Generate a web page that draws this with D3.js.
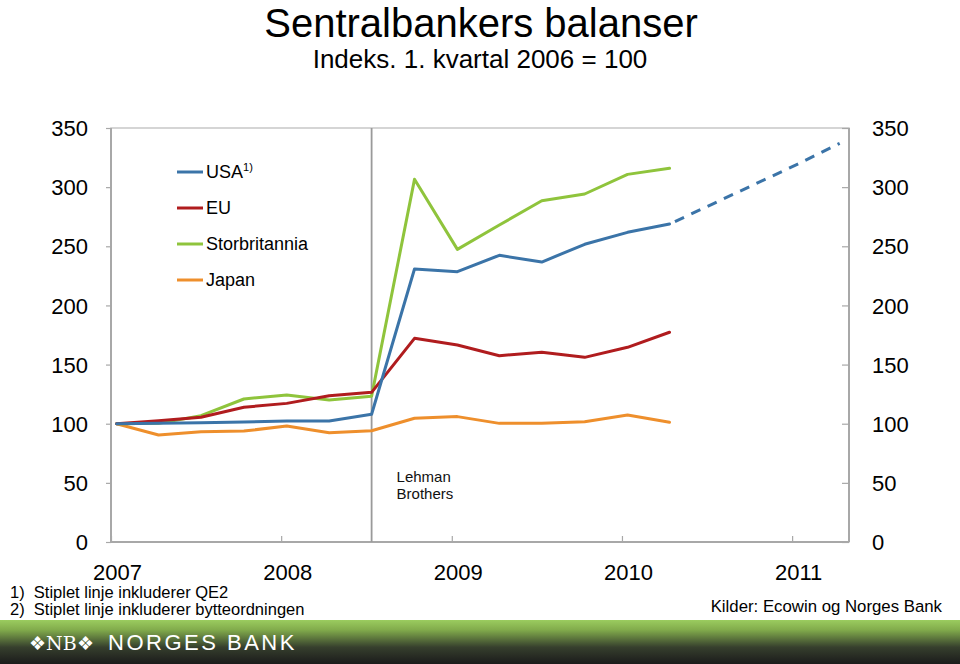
<!DOCTYPE html>
<html>
<head>
<meta charset="utf-8">
<script src="https://cdn.jsdelivr.net/npm/d3@7"></script>
<style>
  html, body { margin: 0; padding: 0; background: #fff; }
  svg { display: block; font-family: "Liberation Sans", Arial, sans-serif; }
</style>
</head>
<body>
<svg id="chart" width="960" height="664"></svg>
<script>
// ---------- DATA ----------
const quarters = ["2007-01","2007-04","2007-07","2007-10","2008-01","2008-04","2008-07","2008-10",
                  "2009-01","2009-04","2009-07","2009-10","2010-01","2010-04",
                  "2010-07","2010-10","2011-01","2011-04"];
const usa      = [100, 100.3, 100.9, 101.4, 102.3, 102.3, 108, 230.8, 228.5, 242.4, 236.7, 251.7, 261.8, 268.8];
const usaQE2   = [268.8, 285.5, 302.5, 319.5, 337];           // dashed continuation (2010Q2 - 2011Q2)
const eu       = [100, 102.6, 105.4, 113.9, 117.2, 123.7, 126.5, 172.2, 166.5, 157.5, 160.4, 156.1, 164.6, 177.3];
const uk       = [100, 100.3, 106.8, 120.9, 124.3, 120, 123.3, 306.6, 247.4, 268, 288.5, 294.2, 310.8, 315.9];
const japan    = [100, 90.5, 93.3, 93.8, 98, 92.4, 94.1, 104.6, 106, 100.3, 100.3, 101.7, 107.4, 101.2];
const seriesNames = ["USA", "EU", "Storbritannia", "Japan"];
const seriesColors = ["#3b74a8", "#b01c1e", "#8fc43c", "#ee8f2c"];
const yTicks = [0, 50, 100, 150, 200, 250, 300, 350];
const yearTicks = [2007, 2008, 2009, 2010, 2011];
const lehmanQuarter = "2008-07";

// ---------- LAYOUT ----------
const svg = d3.select("#chart");
const L = 111, R = 849, T = 128, B = 542;
const parseQ = s => { const [y, m] = s.split("-").map(Number); return new Date(y, m - 1, 13); };
const x = d3.scaleTime().domain([new Date(2007, 0, 1), new Date(2011, 4, 3)]).range([L, R]);
const y = d3.scaleLinear().domain([0, 350]).range([B, T]);

// gradient for footer
const defs = svg.append("defs");
const g = defs.append("linearGradient").attr("id", "foot").attr("x1", 0).attr("y1", 0).attr("x2", 0).attr("y2", 1);
g.append("stop").attr("offset", "0%").attr("stop-color", "#9bcc5f");
g.append("stop").attr("offset", "22%").attr("stop-color", "#82ac4c");
g.append("stop").attr("offset", "62%").attr("stop-color", "#363f2d");
g.append("stop").attr("offset", "100%").attr("stop-color", "#1b1b1b");

// titles
svg.append("text").attr("x", 481).attr("y", 37).attr("text-anchor", "middle")
  .attr("font-size", 40).attr("fill", "#000").text("Sentralbankers balanser");
svg.append("text").attr("x", 480).attr("y", 68).attr("text-anchor", "middle")
  .attr("font-size", 26).attr("fill", "#000").text("Indeks. 1. kvartal 2006 = 100");

// frame
const frameColor = "#a8a8a8";
svg.append("rect").attr("x", L).attr("y", T).attr("width", R - L).attr("height", B - T)
  .attr("fill", "none").attr("stroke", "#c8c8c8").attr("stroke-width", 1.5);
svg.append("line").attr("x1", L).attr("x2", L).attr("y1", T).attr("y2", B).attr("stroke", frameColor).attr("stroke-width", 2);
svg.append("line").attr("x1", R).attr("x2", R).attr("y1", T).attr("y2", B).attr("stroke", frameColor).attr("stroke-width", 2);
svg.append("line").attr("x1", L).attr("x2", R).attr("y1", B).attr("y2", B).attr("stroke", frameColor).attr("stroke-width", 2);

// left axis
const leftAxis = d3.axisLeft(y).tickValues(yTicks).tickSize(5).tickPadding(18);
const gl = svg.append("g").attr("transform", `translate(${L},0)`).call(leftAxis);
gl.select(".domain").remove();
gl.selectAll(".tick line").attr("stroke", frameColor).attr("stroke-width", 1.2);
gl.selectAll(".tick text").attr("font-size", 22).attr("fill", "#000").attr("font-family", "Liberation Sans, Arial, sans-serif").attr("dy", "0.35em");

// right axis (ticks point inward)
const rightAxis = d3.axisRight(y).tickValues(yTicks).tickSize(-7).tickPadding(23);
const gr = svg.append("g").attr("transform", `translate(${R},0)`).call(rightAxis);
gr.select(".domain").remove();
gr.selectAll(".tick line").attr("stroke", frameColor).attr("stroke-width", 1.2);
gr.selectAll(".tick text").attr("font-size", 22).attr("fill", "#000").attr("font-family", "Liberation Sans, Arial, sans-serif").attr("dy", "0.35em");

// bottom axis (ticks inward, labels offset)
const bottomAxis = d3.axisBottom(x).tickValues(yearTicks.map(v => new Date(v, 0, 1)))
  .tickSize(-6).tickFormat(d3.timeFormat("%Y")).tickPadding(0);
const gb = svg.append("g").attr("transform", `translate(0,${B})`).call(bottomAxis);
gb.select(".domain").remove();
gb.selectAll(".tick line").attr("stroke", frameColor).attr("stroke-width", 1.2);
gb.selectAll(".tick text").attr("font-size", 22).attr("fill", "#000").attr("font-family", "Liberation Sans, Arial, sans-serif")
  .attr("dx", 6).attr("dy", 0).attr("y", 38);

// Lehman line
const lx = x(parseQ(lehmanQuarter));
svg.append("line").attr("x1", lx).attr("x2", lx).attr("y1", T).attr("y2", B)
  .attr("stroke", "#9a9a9a").attr("stroke-width", 1.8);
svg.append("text").attr("x", lx + 25).attr("y", 482).attr("font-size", 15).attr("fill", "#111").text("Lehman");
svg.append("text").attr("x", lx + 25).attr("y", 499).attr("font-size", 15).attr("fill", "#111").text("Brothers");

// series lines
const line = d3.line().x((d, i) => x(parseQ(quarters[i]))).y(d => y(d));
const allSeries = [usa, eu, uk, japan];
[3, 2, 1, 0].forEach(k => {
  svg.append("path").datum(allSeries[k]).attr("d", line)
    .attr("fill", "none").attr("stroke", seriesColors[k]).attr("stroke-width", 3)
    .attr("stroke-linejoin", "round").attr("stroke-linecap", "round");
});
const offset = usa.length - 1;
const dashLine = d3.line().x((d, i) => x(parseQ(quarters[i + offset]))).y(d => y(d));
svg.append("path").datum(usaQE2).attr("d", dashLine)
  .attr("fill", "none").attr("stroke", seriesColors[0]).attr("stroke-width", 3)
  .attr("stroke-dasharray", "10,8").attr("stroke-dashoffset", -6);

// legend
const legY = [172, 208, 244, 280];
seriesNames.forEach((name, i) => {
  svg.append("line").attr("x1", 177).attr("x2", 203).attr("y1", legY[i]).attr("y2", legY[i])
    .attr("stroke", seriesColors[i]).attr("stroke-width", 3);
  const t = svg.append("text").attr("x", 206).attr("y", legY[i] + 6).attr("font-size", 18).attr("fill", "#000").text(name);
  if (i === 0) t.append("tspan").attr("font-size", 11).attr("dy", -7).text("1)");
});

// footnotes
svg.append("text").attr("x", 10).attr("y", 598).attr("font-size", 16.5).attr("fill", "#000").attr("xml:space", "preserve").text("1)  Stiplet linje inkluderer QE2");
svg.append("text").attr("x", 10).attr("y", 615).attr("font-size", 16.5).attr("fill", "#000").attr("xml:space", "preserve").text("2)  Stiplet linje inkluderer bytteordningen");
svg.append("text").attr("x", 942).attr("y", 612).attr("text-anchor", "end").attr("font-size", 16.8).attr("fill", "#000").text("Kilder: Ecowin og Norges Bank");

// footer band
svg.append("rect").attr("x", 0).attr("y", 620).attr("width", 960).attr("height", 44).attr("fill", "url(#foot)");
svg.append("text").attr("x", 29).attr("y", 650).attr("font-size", 19).attr("fill", "#fff")
  .attr("font-family", "DejaVu Serif, Liberation Serif, serif").text("❖NB❖");
svg.append("text").attr("x", 108).attr("y", 650).attr("font-size", 22).attr("fill", "#fff")
  .attr("letter-spacing", 2.5).attr("font-family", "Liberation Sans, Arial, sans-serif").text("NORGES BANK");
</script>
</body>
</html>
